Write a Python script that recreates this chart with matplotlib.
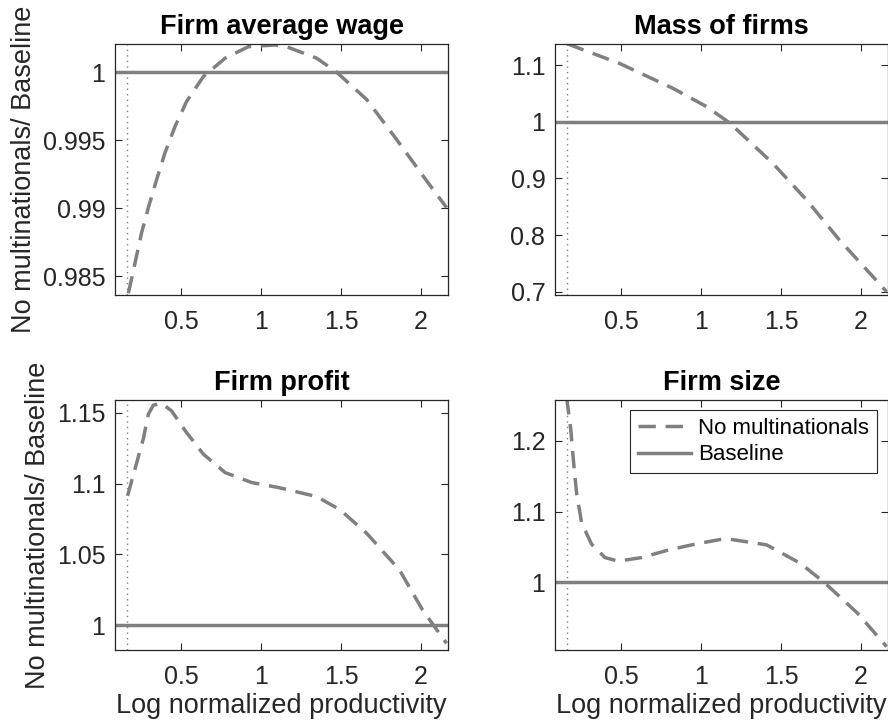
import matplotlib
matplotlib.use("Agg")
import matplotlib.pyplot as plt

plt.rcParams['font.family'] = ['Liberation Sans', 'DejaVu Sans']

# ---- data ----
wage_x = [0.171, 0.212, 0.254, 0.296, 0.348, 0.400, 0.463, 0.535, 0.64, 0.776, 0.921, 1.088,
          1.16, 1.348, 1.473, 1.66, 1.848, 2.014, 2.16]
wage_y = [0.98376, 0.98595, 0.98822, 0.99005, 0.99212, 0.99408, 0.99602, 0.99785, 0.99968, 1.00103,
          1.00187, 1.0020, 1.00187, 1.00103, 1.0, 0.998, 0.99505, 0.99236, 0.99005]

mass_x = [0.164, 0.49, 0.827, 1.035, 1.18, 1.448, 1.66, 1.866, 2.16]
mass_y = [1.138, 1.1035, 1.059, 1.027, 0.998, 0.927, 0.862, 0.791, 0.700]

profit_x = [0.166, 0.212, 0.264, 0.296, 0.327, 0.379, 0.441, 0.535, 0.64, 0.776, 0.942, 1.108,
            1.348, 1.494, 1.66, 1.866, 2.01, 2.16]
profit_y = [1.0913, 1.1101, 1.1313, 1.1489, 1.1552, 1.1566, 1.1512, 1.1359, 1.1207, 1.1077, 1.1007, 1.0972,
            1.0908, 1.0815, 1.065, 1.039, 1.0108, 0.9873]

size_x = [0.160, 0.186, 0.202, 0.222, 0.254, 0.316, 0.400, 0.483, 0.629, 0.796, 0.963, 1.13,
          1.18, 1.41, 1.62, 1.77, 1.98, 2.16]
size_y = [1.262, 1.2165, 1.174, 1.127, 1.084, 1.054, 1.035, 1.030, 1.035, 1.0457, 1.054, 1.061,
          1.061, 1.053, 1.027, 1.0, 0.956, 0.909]

titles = ["Firm average wage", "Mass of firms", "Firm profit", "Firm size"]
series_x = [wage_x, mass_x, profit_x, size_x]
series_y = [wage_y, mass_y, profit_y, size_y]
ylims = [(0.98363, 1.00207), (0.694, 1.1377), (0.9826, 1.1589), (0.9042, 1.258)]
yticks = [[0.985, 0.99, 0.995, 1.0], [0.7, 0.8, 0.9, 1.0, 1.1], [1.0, 1.05, 1.1, 1.15], [1.0, 1.1, 1.2]]
yticklabels = [["0.985", "0.99", "0.995", "1"], ["0.7", "0.8", "0.9", "1", "1.1"],
               ["1", "1.05", "1.1", "1.15"], ["1", "1.1", "1.2"]]
xticks = [0.5, 1.0, 1.5, 2.0]
xticklabels = ["0.5", "1", "1.5", "2"]
xlim = (0.0875, 2.169)
cutoff = 0.164
baseline = 1.0

W, H = 888, 721
fig = plt.figure(figsize=(W / 100, H / 100), dpi=100)
boxes = [(115, 44, 448, 295), (555, 44, 888, 295), (115, 400, 448, 650), (555, 400, 888, 650)]

dark = '#262626'
gray = '#808080'
tfs = 18
lfs = 19.5

for i, (l, t, r, b) in enumerate(boxes):
    ax = fig.add_axes([l / W, 1 - b / H, (r - l) / W, (b - t) / H])
    ax.axvline(cutoff, color=gray, lw=1.0, ls=(0, (1, 3)))
    ax.plot(series_x[i], series_y[i], color=gray, lw=2.5, ls=(0, (5, 2.8)), label='No multinationals')
    ax.axhline(baseline, color=gray, lw=2.5, label='Baseline')
    ax.set_xlim(*xlim)
    ax.set_ylim(*ylims[i])
    ax.set_xticks(xticks)
    ax.set_xticklabels(xticklabels)
    ax.set_yticks(yticks[i])
    ax.set_yticklabels(yticklabels[i])
    ax.tick_params(direction='in', top=True, right=True, length=5, width=0.8,
                   colors=dark, labelsize=tfs)
    ax.tick_params(axis='x', pad=11)
    ax.tick_params(axis='y', pad=7)
    for s in ax.spines.values():
        s.set_color(dark)
        s.set_linewidth(0.9)
    ax.set_title(titles[i], fontsize=lfs, fontweight='bold', pad=7)
    if i % 2 == 0:
        ax.set_ylabel('No multinationals/ Baseline', fontsize=lfs, color=dark, labelpad=4)
    if i >= 2:
        ax.set_xlabel('Log normalized productivity', fontsize=lfs, color=dark, labelpad=3)
    if i == 3:
        leg = ax.legend(loc='upper right', bbox_to_anchor=(0.966, 0.96), fontsize=16,
                        frameon=True, fancybox=False, edgecolor=dark, framealpha=1,
                        handlelength=2.4, handletextpad=0.3, borderpad=0.35, labelspacing=0.25,
                        borderaxespad=0)
        leg.get_frame().set_linewidth(0.8)

fig.savefig('out.png', dpi=100)
